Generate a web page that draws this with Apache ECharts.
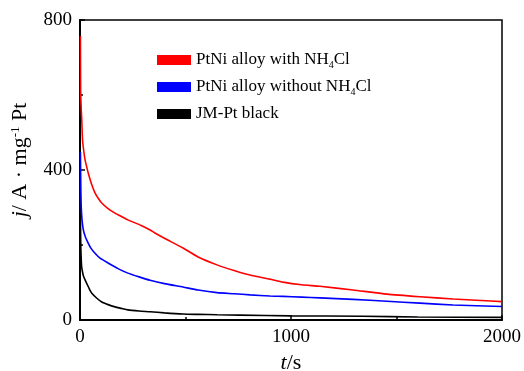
<!DOCTYPE html>
<html>
<head>
<meta charset="utf-8">
<script src="https://cdn.jsdelivr.net/npm/echarts@6/dist/echarts.min.js"></script>
<style>html,body{margin:0;padding:0;background:#fff}#c{width:524px;height:371px}</style>
</head>
<body>
<div id="c"></div>
<script>
// ---- data ----
var seriesNames = ['PtNi alloy with NH4Cl', 'PtNi alloy without NH4Cl', 'JM-Pt black'];
var xTicks = [0, 1000, 2000];
var yTicks = [0, 400, 800];

var tRed = [2, 3, 6, 8, 12, 18, 24, 32, 39, 55, 71, 87, 103, 133, 166, 196, 227, 290, 332, 355, 400, 488, 560, 649, 730, 806, 900, 962, 1050, 1137, 1294, 1455, 1611, 1768, 1900, 2000];
var jRed = [757, 613, 560, 539, 480, 450, 427, 408, 392, 362, 339, 324, 312, 297, 285, 276, 267, 252, 240, 232, 218, 192, 168, 147, 132, 120, 109, 101, 94, 90, 80, 69, 62, 56, 52, 49];

var tBlue = [2, 4, 6, 10, 16, 24, 32, 50, 71, 95, 133, 180, 227, 280, 332, 400, 488, 560, 649, 730, 806, 900, 962, 1050, 1137, 1294, 1455, 1611, 1768, 2000];
var jBlue = [448, 350, 300, 265, 240, 224, 213, 193, 178, 165, 152, 137, 125, 115, 106, 97, 88, 80, 73, 70, 67, 64, 63, 61, 59, 55, 50, 45, 40, 36];

var tBlack = [2, 3, 4, 6, 8, 12, 16, 24, 40, 55, 80, 103, 133, 166, 196, 227, 280, 332, 400, 488, 560, 650, 758, 1000, 1340, 1600, 2000];
var jBlack = [280, 230, 190, 160, 141, 128, 118, 107, 88, 72, 58, 48, 41, 35, 31, 27, 24, 22, 19, 16, 15, 14, 13, 11, 10, 8, 7];

var colors = ['#ff0000', '#0000ff', '#000000'];

function pairs(t, j) { return t.map(function (v, i) { return [v, j[i]]; }); }

var FONT = 'Liberation Serif';
var chart = echarts.init(document.getElementById('c'), null, {renderer: 'canvas'});

var dataSets = [pairs(tRed, jRed), pairs(tBlue, jBlue), pairs(tBlack, jBlack)];
function plain(v) { return String(v); }

chart.setOption({
  animation: false,
  backgroundColor: '#fff',
  grid: {left: 80, right: 22, top: 20, bottom: 51, outerBoundsMode: 'none', containLabel: false,
    show: true, borderColor: '#000', borderWidth: 1.5, backgroundColor: 'transparent'},
  legend: {
    orient: 'vertical', left: 152, top: 45,
    icon: 'rect', itemWidth: 34, itemHeight: 10, itemGap: 7,
    data: seriesNames,
    formatter: function (n) { return n.replace('NH4Cl', 'NH{sub|4}Cl'); },
    textStyle: {fontFamily: FONT, fontSize: 17, color: '#000', lineHeight: 20,
      rich: {sub: {fontFamily: FONT, fontSize: 10, lineHeight: 10, verticalAlign: 'bottom', color: '#000'}}}
  },
  xAxis: {
    type: 'value', min: xTicks[0], max: xTicks[xTicks.length - 1], interval: xTicks[1] - xTicks[0],
    name: '{i|t}/s', nameLocation: 'middle', nameGap: 28,
    nameTextStyle: {fontFamily: FONT, fontSize: 22, color: '#000',
      rich: {i: {fontFamily: FONT, fontSize: 22, fontStyle: 'italic', color: '#000'}}},
    axisLine: {lineStyle: {color: '#000', width: 2}},
    axisTick: {inside: true, length: 5, lineStyle: {color: '#000', width: 1.5}},
    minorTick: {show: true, splitNumber: 2, length: 3, lineStyle: {color: '#000', width: 1.5}},
    splitLine: {show: false},
    axisLabel: {fontFamily: FONT, fontSize: 19, color: '#000', margin: 8, formatter: plain}
  },
  yAxis: {
    type: 'value', min: yTicks[0], max: yTicks[yTicks.length - 1], interval: yTicks[1] - yTicks[0],
    name: '{i|j}/ A · mg{sup|-1} Pt', nameLocation: 'middle', nameGap: 40, nameRotate: 90,
    nameTextStyle: {fontFamily: FONT, fontSize: 22, color: '#000', lineHeight: 24, padding: [0, 0, 0, 20],
      rich: {i: {fontFamily: FONT, fontSize: 22, fontStyle: 'italic', color: '#000', lineHeight: 24},
             sup: {fontFamily: FONT, fontSize: 13, lineHeight: 13, verticalAlign: 'top', color: '#000'}}},
    axisLine: {lineStyle: {color: '#000', width: 2}},
    axisTick: {inside: true, length: 5, lineStyle: {color: '#000', width: 1.5}},
    minorTick: {show: true, splitNumber: 2, length: 3, lineStyle: {color: '#000', width: 1.5}},
    splitLine: {show: false},
    axisLabel: {fontFamily: FONT, fontSize: 19, color: '#000', margin: 8, formatter: plain}
  },
  series: seriesNames.map(function (n, i) {
    return {
      name: n, type: 'line', data: dataSets[i], showSymbol: false, symbol: 'none',
      smooth: 0.2,
      lineStyle: {color: colors[i], width: 1.6}, itemStyle: {color: colors[i]}
    };
  })
});
</script>
</body>
</html>
